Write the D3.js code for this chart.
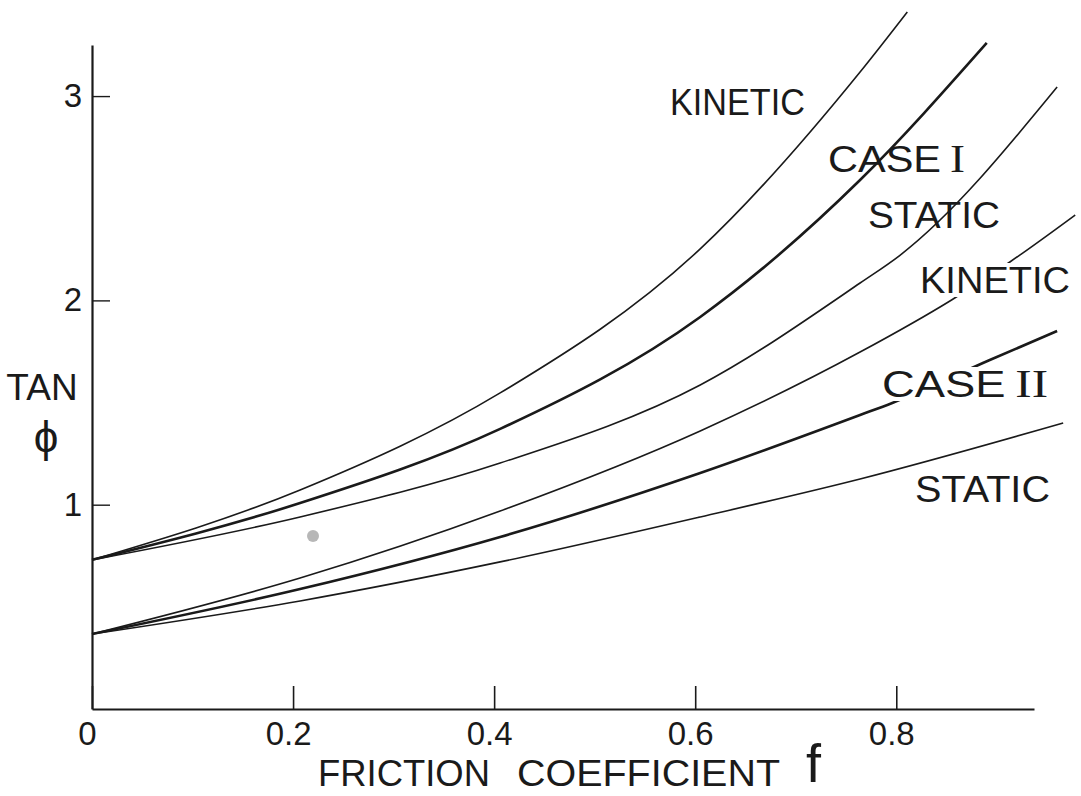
<!DOCTYPE html>
<html>
<head>
<meta charset="utf-8">
<script src="https://cdn.jsdelivr.net/npm/d3@7"></script>
<style>
  body { margin: 0; background: #fff; }
  svg { display: block; font-family: "Liberation Sans", Arial, sans-serif; }
  .axis path, .axis line { stroke: #1a1a1a; }
  .axis text { font-family: "Liberation Sans", Arial, sans-serif; fill: #1a1a1a; }
  .curve { fill: none; stroke: #1a1a1a; }
  .lbl { fill: #1a1a1a; font-size: 37px; }
</style>
</head>
<body>
<div class="chart"></div>
<script>
// tick values
const xTicks = [0, 0.2, 0.4, 0.6, 0.8]
const yTicks = [1, 2, 3]

// curves: [friction coefficient f, tan phi]
const kinetic1 = [[0, 0.73], [0.207, 1.072], [0.406, 1.547], [0.605, 2.252], [0.764, 3.118], [0.811, 3.412]]
const case1 = [[0, 0.73], [0.207, 1.008], [0.406, 1.371], [0.605, 1.919], [0.764, 2.589], [0.890, 3.26]]
const static1 = [[0, 0.73], [0.207, 0.94], [0.406, 1.204], [0.605, 1.586], [0.764, 2.085], [0.804, 2.222], [0.960, 3.044]]
const kinetic2 = [[0, 0.367], [0.207, 0.641], [0.406, 0.969], [0.605, 1.361], [0.764, 1.747], [0.855, 2.002], [0.913, 2.188], [0.978, 2.418]]
const case2 = [[0, 0.367], [0.207, 0.587], [0.406, 0.842], [0.605, 1.155], [0.764, 1.439], [0.796, 1.498], [0.893, 1.708], [0.960, 1.85]]
const static2 = [[0, 0.367], [0.207, 0.529], [0.406, 0.72], [0.605, 0.94], [0.764, 1.126], [0.966, 1.40]]

const width = 1081
const height = 796

let x = d3.scaleLinear().domain([0, 0.937]).range([92, 1034])
let y = d3.scaleLinear().domain([0, 3.25]).range([709, 45])

let svg = d3.select(".chart")
  .append("svg")
  .attr("width", width)
  .attr("height", height)

let line = d3.line()
  .x(d => x(d[0]))
  .y(d => y(d[1]))
  .curve(d3.curveMonotoneX)

const series = [
  {data: kinetic1, w: 1.6},
  {data: case1, w: 2.6},
  {data: static1, w: 1.6},
  {data: kinetic2, w: 1.6},
  {data: case2, w: 2.6},
  {data: static2, w: 1.6}
]

svg.selectAll(".curve")
  .data(series)
  .enter().append("path")
  .attr("class", "curve")
  .attr("stroke-width", d => d.w)
  .attr("d", d => line(d.data))

// axes
let xaxis = svg.append("g")
  .attr("class", "x axis")
  .attr("transform", "translate(0," + y(0) + ")")
  .call(d3.axisBottom(x)
    .tickValues(xTicks)
    .tickFormat(d => d === 0 ? "0" : d.toFixed(1))
    .tickSizeOuter(0)
    .tickSizeInner(-23)
    .tickPadding(13))

xaxis.select(".domain").attr("stroke-width", 2.2)
xaxis.selectAll(".tick line").attr("stroke-width", 1.6)
xaxis.selectAll(".tick text").attr("font-size", 33).attr("dx", -5)

let yaxis = svg.append("g")
  .attr("class", "y axis")
  .attr("transform", "translate(" + x(0) + ",0)")
  .call(d3.axisLeft(y)
    .tickValues(yTicks)
    .tickFormat(d3.format("d"))
    .tickSizeOuter(0)
    .tickSizeInner(-18)
    .tickPadding(10))

yaxis.select(".domain").attr("stroke-width", 2.2)
yaxis.selectAll(".tick line").attr("stroke-width", 1.4)
yaxis.selectAll(".tick text").attr("font-size", 33)

// axis titles
svg.append("text").attr("class", "lbl").attr("x", 42).attr("y", 400)
  .attr("text-anchor", "middle").text("TAN")
svg.append("text").attr("class", "lbl").attr("x", 46).attr("y", 452)
  .attr("text-anchor", "middle").style("font-size", "44px").text("ϕ")

svg.append("text").attr("class", "lbl").attr("x", 318).attr("y", 786)
  .attr("textLength", 172).attr("lengthAdjust", "spacingAndGlyphs").text("FRICTION")
svg.append("text").attr("class", "lbl").attr("x", 517).attr("y", 786)
  .attr("textLength", 263).attr("lengthAdjust", "spacingAndGlyphs").text("COEFFICIENT")
svg.append("text").attr("class", "lbl").attr("x", 806).attr("y", 782)
  .style("font-size", "54px").text("f")

// curve labels, the ones that break their line get a white backing
function label(px, py, w, main, numeral, gap) {
  let g = svg.append("g")
  let t = g.append("text").attr("class", "lbl").attr("x", px).attr("y", py)
  t.append("tspan").text(main)
  if (numeral) {
    t.append("tspan").attr("font-family", "'Liberation Serif', serif")
      .attr("font-size", 40).attr("dx", 8).text(numeral)
  }
  t.attr("textLength", w).attr("lengthAdjust", "spacingAndGlyphs")
  if (gap) {
    let b = t.node().getBBox()
    g.insert("rect", "text")
      .attr("x", b.x - 3).attr("y", py - 30)
      .attr("width", b.width + 6).attr("height", 34)
      .attr("fill", "#fff")
  }
}

label(670, 115, 135, "KINETIC", null, false)
label(828, 172, 137, "CASE", "I", false)
label(868, 228, 132, "STATIC", null, false)
label(920, 293, 150, "KINETIC", null, true)
label(882, 397, 166, "CASE", "II", true)
label(915, 502, 135, "STATIC", null, false)

// small smudge in the drawing
svg.append("circle").attr("cx", 313).attr("cy", 536).attr("r", 6)
  .attr("fill", "#999").attr("opacity", 0.7)
</script>
</body>
</html>
